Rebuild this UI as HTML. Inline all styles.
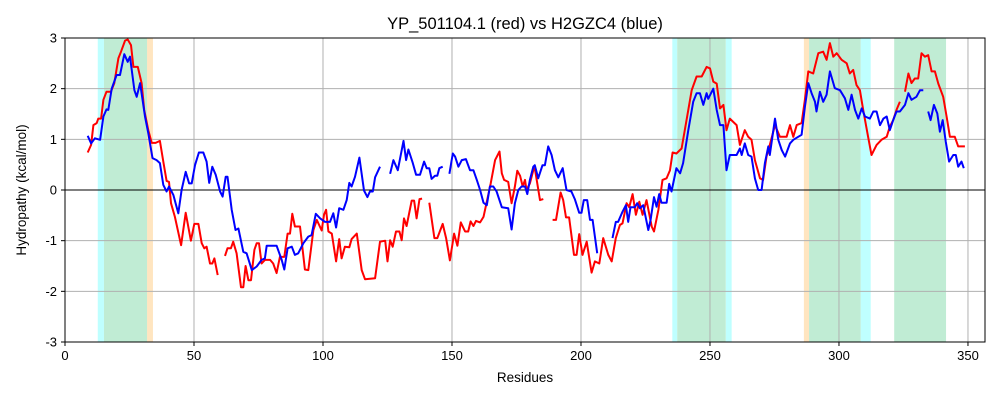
<!DOCTYPE html>
<html><head><meta charset="utf-8"><style>
body{margin:0;background:#fff;font-family:"Liberation Sans",sans-serif}
svg text{font-family:"Liberation Sans",sans-serif;fill:#000}
</style></head><body>
<svg id="chart" width="1000" height="400" viewBox="0 0 1000 400" xmlns="http://www.w3.org/2000/svg">
<rect x="0" y="0" width="1000" height="400" fill="#fff"/>
<g id="spans"></g>
<g id="grid"></g>
<g id="series"></g>
<rect x="65" y="38" width="920" height="304" fill="none" stroke="#000" stroke-width="1"/>
<g id="ticks"></g>
<text x="525" y="29" font-size="16.5" text-anchor="middle">YP_501104.1 (red) vs H2GZC4 (blue)</text>
<text x="525" y="382" font-size="13.5" text-anchor="middle">Residues</text>
<text x="26" y="190" font-size="13.5" text-anchor="middle" transform="rotate(-90 26 190)">Hydropathy (kcal/mol)</text>
</svg>
<script>
const xTicks=[0,50,100,150,200,250,300,350];
const yTicks=[-3,-2,-1,0,1,2,3];
const spanStart=[12.7,31.8,235.4,256.1,286.4,308.4,15.1,237.3,288.4,321.4];
const spanEnd=[15.1,34.1,237.3,258.4,288.4,312.3,31.8,256.1,308.4,341.5];
const spanKind=["cyan","orange","cyan","cyan","orange","cyan","green","green","green","green"];
const resR=[8.8,10.1,11,12.3,12.9,14,14.9,16.1,17.8,19.1,20.7,21.7,23.3,24.3,25.6,26.5,28.2,29.7,30.7,32.3,33.6,35.1,36.8,38.1,39.4,40.3,41.1,42.6,45,46.8,48.8,50.1,51.7,53,54,54.9,56.2,57.1,57.9,59.2,60.5,62,63,64.3,65.2,66.5,68.2,69.1,70,71.1,72.1,73.4,74.3,75.2,76.2,77.5,79.5,80.7,82,83.3,85,86.3,87.2,88.1,89.1,90.4,91.1,93,94.3,96.3,97.6,99.5,100.4,101.2,102.1,103.4,105.1,106.3,107.2,108.5,110.2,111.1,113.1,115,116.3,120.2,122.1,124.1,125,126,127,128.3,129.6,130.5,131.4,132.4,134.4,135.3,136.3,137.4,138.4,139.8,141.2,143.2,144.3,146.4,147.7,149.2,150.8,152.1,153.4,155.1,156.3,157.2,158.3,159.3,160.9,162.2,163.5,165,166.7,168.4,169.3,170.2,171.8,173.1,174.4,175.3,176.4,177.4,178.3,178.9,180.2,181.5,182.1,184.1,185.4,187,189,190.3,192.1,193.1,194.2,195.4,197.3,198.3,199.3,200.6,202.2,204.1,205.4,207.1,208.6,210.6,211.9,213.5,215.1,216.1,217.7,218.7,220,221.3,222.6,223.9,225.4,227.4,228.3,230,231.6,233.2,234.5,235.5,237,239,241,242.9,244.8,246.8,248.7,250,251.3,252.6,253.9,255.2,256.4,257.7,260.3,261.6,263.5,264.8,266.1,267.4,269.4,270.6,271.9,273.2,275.2,277.1,279.7,281,282.3,283.6,285.5,286.8,288.1,290,292,293.9,295.2,296.5,297.8,299.1,301,303,304.2,305.5,306.8,308.1,309.4,311.3,312.6,314.6,316.5,318.5,319.7,321,322.3,323.6,324.6,325.6,326.9,328.1,329.4,330.7,332,333.3,334.6,335.9,337.2,338.5,340.4,341.7,343,344.9,346.2,348.8];
const red=[0.74,0.89,1.28,1.32,1.41,1.41,1.78,1.94,1.94,2.11,2.6,2.73,2.95,2.97,2.86,2.43,2.43,2.11,1.58,1.18,0.93,0.93,0.97,0.56,0.18,0.16,-0.26,-0.53,-1.09,-0.45,-1.0,-0.67,-0.67,-1.05,-1.15,-1.12,-1.45,-1.45,-1.35,-1.68,null,-1.3,-1.15,-1.15,-1.02,-1.25,-1.92,-1.92,-1.5,-1.78,-1.78,-1.18,-1.05,-1.05,-1.45,-1.38,-1.38,-1.45,-1.64,-1.32,-1.32,-0.86,-0.86,-0.47,-0.72,-0.72,-0.72,-1.57,-1.58,-0.79,-0.59,-0.8,-0.49,-0.39,-0.82,-0.86,-1.41,-0.97,-1.35,-1.12,-1.13,-0.97,-0.86,-1.58,-1.76,-1.74,-1.02,-1.0,-1.41,-0.99,-1.12,-0.82,-0.82,-0.99,-0.56,-0.71,-0.21,-0.21,-0.56,-0.18,-0.17,null,-0.25,-0.95,-0.95,-0.67,-0.95,-1.39,-0.86,-1.1,-0.64,-0.82,-0.82,-0.62,-0.71,-0.61,-0.64,-0.53,-0.23,0.13,0.59,0.76,0.33,0.2,0.16,-0.26,0.07,0.38,0.28,0.07,0.2,0,0.13,0.39,0.43,-0.2,-0.18,null,-0.59,-0.59,-0.05,-0.2,-0.54,-0.54,-1.28,-1.28,-0.87,-1.28,-1.02,-1.63,-1.41,-1.45,-0.95,-1.28,-1.41,-0.95,-0.69,-0.66,-0.26,-0.34,-0.08,-0.49,-0.23,-0.49,-0.2,-0.72,-0.82,-0.39,0.2,0.23,0.39,0.74,0.72,0.82,1.41,1.97,2.24,2.24,2.43,2.4,2.14,2.1,1.61,1.68,1.18,1.41,1.28,0.89,1.18,1.05,0.99,0.59,0.23,0.2,0.66,0.89,1.28,1.05,1.05,1.28,1.05,1.28,1.32,1.78,2.34,2.3,2.7,2.73,2.57,2.9,2.63,2.7,2.57,2.5,2.3,2.37,2.07,1.97,1.58,1.05,0.69,0.89,0.99,1.05,1.25,1.38,1.58,1.74,null,1.94,2.3,2.11,2.2,2.2,2.7,2.63,2.66,2.34,2.34,2.1,1.84,1.45,1.05,1.05,0.86,0.86];
const resB=[8.8,10.1,11.6,13.6,14.9,16.1,16.8,18.1,20,21.3,23,24.3,25.2,26.9,27.8,29.1,31,32.3,33.9,35.5,36.8,38.1,39.4,40.3,42,43.9,45.2,46.8,48.1,49.1,50.4,51.9,53.6,54.9,55.9,57.1,58.4,60.1,61.1,62.3,63,64.6,66.1,67.2,69.1,70.4,72.4,74.3,76.2,77.5,78.2,80.1,82,84,85,86.3,87.9,89.1,90.4,92.4,94.3,95.6,97.2,98.9,100.8,102.7,104,105.1,106.3,107.9,109.2,110.2,111.1,112.4,114.1,115.9,117.2,118.2,119.3,120.2,122.1,124,126,127.3,129,131.2,132.2,133.1,134.8,136.1,137.6,139.2,140.2,141.2,142.1,143.4,144.3,145.1,146.4,147.5,149,150.3,151.2,152.5,153.8,155.4,157,158.3,159.6,160.9,162.2,163.5,164.7,166,167.3,169.3,171.8,173.1,174.4,175.7,177,178.3,179.2,180.2,181.5,182.1,183.4,185.1,186,187.3,188.6,189.9,191.2,192.9,194.4,196.3,197.6,199.3,200.2,201.1,202.4,203.5,204.5,205.4,206.3,209,212.2,213.5,214.4,216.1,217.4,218.3,219.2,220.9,221.8,222.8,224.1,226.1,227,228.3,229.3,230.3,231.2,233.2,234.2,235.1,237,238.4,239.6,241.6,243.5,244.8,246.1,247.4,248.7,249.3,251.3,252.6,253.9,255.2,256.4,257.7,260.3,261.6,262.3,263.5,264.8,266.1,267.4,268.7,270,271.3,272.6,273.2,275.2,276.5,277.8,279.1,281,282.3,284.2,285.5,286.8,288.1,289.4,290.7,291.3,292.6,293.9,295.2,296.5,298.4,300.4,302.3,303.6,304.9,306.2,307.5,308.8,310.1,312,313.3,314.6,315.9,317.2,318.5,319.7,321,322.3,323.6,325.6,326.9,328.1,330,331.4,332.7,333.6,334.6,335.5,336.8,338.1,339.1,340.2,341.4,342.7,344.3,345.3,346.2,347.5,348.4];
const blue=[1.07,0.92,1.02,0.99,1.45,1.59,1.58,2.0,2.27,2.27,2.68,2.53,2.63,1.97,1.84,2.11,1.45,1.12,0.63,0.59,0.53,0.1,-0.03,0.07,-0.1,-0.46,0,0.36,0.13,0.13,0.49,0.74,0.74,0.56,0.14,0.46,0.3,-0.03,-0.13,0.26,0.26,-0.39,-0.79,-0.76,-1.22,-1.25,-1.58,-1.51,-1.38,-1.35,-1.1,-1.1,-1.1,-1.38,-1.57,-1.15,-1.12,-1.28,-1.25,-1.05,-0.92,-0.89,-0.47,-0.56,-0.63,-0.63,-0.46,-0.74,-0.36,-0.39,-0.2,0.14,0.07,0.26,0.64,-0.01,-0.14,-0.03,-0.03,0.25,0.46,null,0.32,0.59,0.39,0.97,0.59,0.8,0.53,0.3,0.3,0.56,0.43,0.43,0.22,0.28,0.28,0.43,0.46,null,0.32,0.72,0.66,0.46,0.59,0.61,0.39,0.39,0.2,0,-0.25,-0.3,0.07,0.07,-0.03,-0.34,-0.36,-0.78,-0.26,0,0.07,0.07,-0.08,0.2,0.46,0.49,0.23,0.49,0.49,0.86,0.69,0.39,0.25,0.43,0,-0.03,-0.18,-0.45,-0.45,-0.2,-0.2,-0.59,-0.59,-0.92,-1.25,null,-0.95,-0.63,-0.63,-0.43,-0.3,-0.63,-0.34,-0.34,-0.26,-0.36,-0.3,-0.79,-0.59,-0.14,-0.33,-0.08,-0.25,-0.25,0.12,-0.03,0.43,0.33,0.53,1.18,1.74,1.91,1.91,1.68,1.91,1.8,2.0,1.58,1.28,1.28,0.39,0.69,0.69,0.82,0.69,0.92,0.69,0.66,0.23,0,0,0.53,0.86,0.69,1.41,0.99,0.79,0.66,0.92,0.99,1.05,1.09,1.64,2.11,1.91,1.74,1.55,1.94,1.74,1.88,2.34,2.01,1.97,1.81,1.58,1.88,1.58,1.41,1.61,1.45,1.41,1.55,1.55,1.28,1.41,1.45,1.18,1.38,1.55,1.55,1.68,1.91,1.78,1.84,1.97,1.97,null,1.55,1.38,1.68,1.51,1.15,1.38,0.95,0.56,0.69,0.69,0.46,0.56,0.43];
const NS="http://www.w3.org/2000/svg";
const X0=65,X1=985,XMIN=0,XMAX=356.6,Y0=342,Y1=38,YMIN=-3,YMAX=3;
function sx(v){return X0+(v-XMIN)/(XMAX-XMIN)*(X1-X0);}
function sy(v){return Y0-(v-YMIN)/(YMAX-YMIN)*(Y0-Y1);}
function mk(tag,attrs,parent){const e=document.createElementNS(NS,tag);for(const k in attrs)e.setAttribute(k,attrs[k]);parent.appendChild(e);return e;}
const spanColor={cyan:"#bfffff",orange:"#ffe5c0",green:"#c0ecd4"};
const gS=document.getElementById("spans");
for(let i=0;i<spanStart.length;i++){
  const r=mk("rect",{x:sx(spanStart[i]),y:Y1,width:sx(spanEnd[i])-sx(spanStart[i]),height:Y0-Y1,fill:spanColor[spanKind[i]]},gS);
  
  
}
const gG=document.getElementById("grid"),gT=document.getElementById("ticks");
xTicks.forEach(t=>{
  const l=mk("line",{x1:sx(t),x2:sx(t),y1:Y1,y2:Y0,stroke:"#b0b0b0","stroke-width":1},gG);
  
  
  const tk=mk("line",{x1:sx(t),x2:sx(t),y1:Y0,y2:Y0+4,stroke:"#000"},gT);
  
  
  const tx=mk("text",{x:sx(t),y:Y0+18,"font-size":13,"text-anchor":"middle"},gT);
  tx.textContent=t;
  
  
});
yTicks.forEach(t=>{
  const l=mk("line",{x1:X0,x2:X1,y1:sy(t),y2:sy(t),stroke:"#b0b0b0","stroke-width":1},gG);
  
  
  const tk=mk("line",{x1:X0-4,x2:X0,y1:sy(t),y2:sy(t),stroke:"#000"},gT);
  
  
  const tx=mk("text",{x:X0-8,y:sy(t)+4.5,"font-size":13,"text-anchor":"end"},gT);
  tx.textContent=t;
  
  
});
const zl=mk("line",{x1:X0,x2:X1,y1:sy(0),y2:sy(0),stroke:"#000","stroke-width":1},gG);


function path(xs,ys){let d="",pen=false;for(let i=0;i<xs.length;i++){if(ys[i]===null){pen=false;continue;}d+=(pen?"L":"M")+sx(xs[i]).toFixed(1)+","+sy(ys[i]).toFixed(1);pen=true;}return d;}
const gSer=document.getElementById("series");
const pr=mk("path",{d:path(resR,red),fill:"none",stroke:"#ff0000","stroke-width":2,"stroke-linejoin":"round"},gSer);


const pb=mk("path",{d:path(resB,blue),fill:"none",stroke:"#0000ff","stroke-width":2,"stroke-linejoin":"round"},gSer);


</script>
</body></html>
